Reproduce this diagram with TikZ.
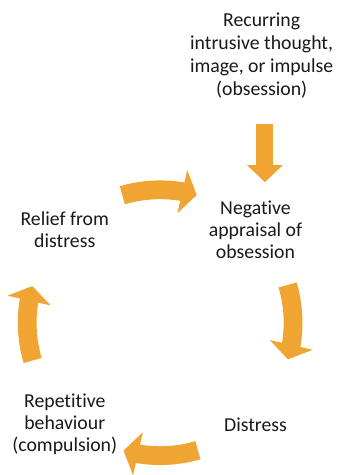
\documentclass[tikz,border=0pt]{standalone}
\usepackage{fontspec}
\setmainfont{Carlito}[Ligatures=CommonOff]
\usetikzlibrary{positioning}
\usetikzlibrary{arrows.meta}
\usetikzlibrary{bending}
\definecolor{ocdorange}{RGB}{240,165,50}
\tikzset{
    mytext/.style = {align=center, inner sep=0pt, text=black!90, font=\fontsize{20bp}{22bp}\selectfont},
    mytextt/.style = {align=center, inner sep=0pt, text=black!90, font=\fontsize{20bp}{23.3bp}\selectfont},
    arrowc/.style = {-{Triangle[width=44bp,length=15bp]}, line width=19bp, draw=ocdorange}, % cycle
    arrowd/.style = {-{Triangle[width=35.3bp,length=17.3bp]}, line width=17.4bp, draw=ocdorange}, % down
}

\begin{document}
\begin{tikzpicture}[x=1bp,y=1bp]
\coordinate (c) at (162.0, 148.5);
\node[mytextt] at (264.7, 418.5) (obs) {Recurring\\intrusive thought,\\image, or impulse\\(obsession)};
\node[mytext] at (258.5, 242.5) (neg) {Negative\\appraisal of\\obsession};
\node[mytext] at (258.5, 45.5) (dis) {Distress};
\node[mytext] at (65.5, 45.5) (rep) {Repetitive\\behaviour\\(compulsion)};
\node[mytext] at (65.5, 242.5) (rel) {Relief from\\distress};
%
\draw[arrowd, shorten <=26bp, shorten >=19bp] ([xshift=3.3bp]obs.south) -- ([xshift=3.3bp]obs.south |- neg.north);
%
\draw[arrowc] ([shift={(106.5:134.5)}]c) arc[start angle=106.5, end angle=74, radius=134.5];
\draw[arrowc] ([shift={(16.5:134.5)}]c) arc[start angle=16.5, end angle=-16, radius=134.5];
\draw[arrowc] ([shift={(-73.5:134.5)}]c) arc[start angle=-73.5, end angle=-106, radius=134.5];
\draw[arrowc] ([shift={(196.5:134.5)}]c) arc[start angle=196.5, end angle=164, radius=134.5];

\path[use as bounding box] (0,0) rectangle (342,475);
\end{tikzpicture}
\end{document}
